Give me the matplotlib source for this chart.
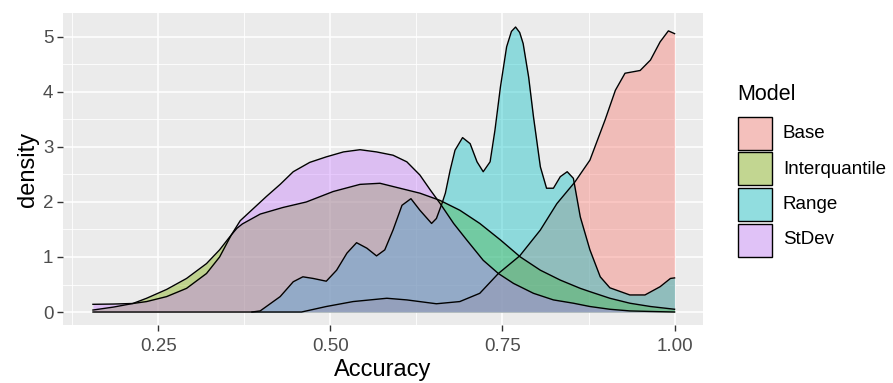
import matplotlib
matplotlib.use("Agg")
import matplotlib.pyplot as plt
from matplotlib.patches import Rectangle

plt.rcParams['font.family'] = ['Liberation Sans', 'DejaVu Sans']

# density curves (Accuracy, density)
base_x = [0.155, 0.30, 0.42, 0.458, 0.494, 0.533, 0.582, 0.611, 0.654, 0.688, 0.717,
          0.744, 0.775, 0.805, 0.829, 0.855, 0.877, 0.899, 0.914, 0.928, 0.950, 0.965,
          0.979, 0.991, 1.0]
base_y = [0.0, 0.0, 0.0, 0.0, 0.10, 0.19, 0.25, 0.22, 0.15, 0.19, 0.34,
          0.70, 1.02, 1.49, 1.97, 2.36, 2.76, 3.49, 4.03, 4.34, 4.39, 4.58,
          4.91, 5.11, 5.06]

iq_x = [0.155, 0.185, 0.213, 0.233, 0.262, 0.291, 0.320, 0.339, 0.354, 0.364, 0.372,
        0.398, 0.431, 0.465, 0.504, 0.543, 0.572, 0.601, 0.630, 0.659, 0.688, 0.717,
        0.747, 0.776, 0.805, 0.834, 0.863, 0.877, 0.906, 0.935, 0.965, 1.0]
iq_y = [0.036, 0.09, 0.155, 0.25, 0.41, 0.61, 0.88, 1.13, 1.37, 1.52, 1.60,
        1.78, 1.90, 2.00, 2.19, 2.32, 2.34, 2.25, 2.16, 2.03, 1.85, 1.61,
        1.31, 1.00, 0.76, 0.58, 0.43, 0.37, 0.25, 0.16, 0.10, 0.05]

range_x = [0.386, 0.398, 0.427, 0.446, 0.460, 0.475, 0.494, 0.509, 0.524, 0.538, 0.553,
           0.567, 0.579, 0.591, 0.604, 0.617, 0.630, 0.647, 0.654, 0.662, 0.667, 0.674,
           0.681, 0.692, 0.703, 0.713, 0.722, 0.732, 0.739, 0.747, 0.756, 0.763, 0.769,
           0.775, 0.780, 0.788, 0.795, 0.805, 0.814, 0.824, 0.834, 0.844, 0.853, 0.863,
           0.877, 0.892, 0.906, 0.935, 0.957, 0.979, 0.994, 1.0]
range_y = [0.0, 0.02, 0.28, 0.55, 0.64, 0.61, 0.56, 0.76, 1.07, 1.26, 1.16,
           1.02, 1.13, 1.49, 1.94, 2.06, 1.85, 1.61, 1.70, 1.97, 2.16, 2.58,
           2.94, 3.17, 3.06, 2.73, 2.55, 2.73, 3.30, 4.09, 4.82, 5.10, 5.18,
           5.08, 4.88, 4.27, 3.55, 2.64, 2.25, 2.25, 2.46, 2.55, 2.43, 1.73,
           1.13, 0.64, 0.44, 0.31, 0.31, 0.46, 0.61, 0.62]

sd_x = [0.155, 0.185, 0.213, 0.233, 0.262, 0.291, 0.320, 0.339, 0.356, 0.369, 0.388,
        0.407, 0.427, 0.446, 0.470, 0.494, 0.519, 0.543, 0.567, 0.591, 0.611, 0.630,
        0.645, 0.659, 0.679, 0.698, 0.722, 0.744, 0.766, 0.795, 0.824, 0.853, 0.877,
        0.906, 0.935, 0.965, 1.0]
sd_y = [0.14, 0.145, 0.155, 0.19, 0.28, 0.43, 0.70, 1.00, 1.40, 1.66, 1.88,
        2.10, 2.32, 2.55, 2.72, 2.82, 2.91, 2.95, 2.91, 2.85, 2.73, 2.49,
        2.22, 1.98, 1.61, 1.31, 0.94, 0.70, 0.52, 0.34, 0.22, 0.16, 0.10,
        0.05, 0.02, 0.01, 0.0]

models = ["Base", "Interquantile", "Range", "StDev"]
colors = ["#F8766D", "#7CAE00", "#00BFC4", "#C77CFF"]
curves = [(base_x, base_y), (iq_x, iq_y), (range_x, range_y), (sd_x, sd_y)]

W, H = 893, 383
fig = plt.figure(figsize=(W / 100, H / 100), dpi=100)
fig.patch.set_facecolor("white")

# panel box in pixels
left, right, top, bottom = 63, 703, 13, 325
ax = fig.add_axes([left / W, 1 - bottom / H, (right - left) / W, (bottom - top) / H])
ax.set_facecolor("#EBEBEB")

for (x, y), c in zip(curves, colors):
    ax.fill_between(x, 0, y, color=c, alpha=0.4, linewidth=0)
    ax.plot(x, y, color="black", lw=1.0)

ax.set_xlim(0.1115, 1.0413)
ax.set_ylim(-0.236, 5.435)

ax.set_xticks([0.25, 0.50, 0.75, 1.00])
ax.set_xticklabels(["0.25", "0.50", "0.75", "1.00"])
ax.set_xticks([0.125, 0.375, 0.625, 0.875], minor=True)
ax.set_yticks([0, 1, 2, 3, 4, 5])
ax.set_yticks([0.5, 1.5, 2.5, 3.5, 4.5], minor=True)

ax.grid(which="major", color="white", lw=1.1)
ax.grid(which="minor", color="white", lw=0.6)
ax.set_axisbelow(True)
for s in ax.spines.values():
    s.set_visible(False)

ax.tick_params(which="major", length=4.5, width=1.0, color="#333333",
               labelsize=13.5, labelcolor="#4D4D4D")
ax.tick_params(axis="x", which="major", pad=5)
ax.tick_params(axis="y", which="major", pad=3, length=4)
ax.tick_params(which="minor", length=0)

ax.set_xlabel("Accuracy", fontsize=17, color="black", labelpad=3)
ax.set_ylabel("density", fontsize=17, color="black", labelpad=3)

# legend drawn by hand to match ggplot's boxed keys
def fy(py):
    return 1 - py / H

fig.text(737 / W, fy(95), "Model", fontsize=15.5, va="center", ha="left")
key_tops = [117, 152.5, 188, 223.5]
for name, c, t in zip(models, colors, key_tops):
    kx, kw, kh = 738, 34, 33
    fig.patches.append(Rectangle((kx / W, fy(t + kh)), kw / W, kh / H,
                                 transform=fig.transFigure, facecolor="#F2F2F2",
                                 edgecolor="none"))
    fig.patches.append(Rectangle((kx / W, fy(t + kh)), kw / W, kh / H,
                                 transform=fig.transFigure, facecolor=c, alpha=0.4,
                                 edgecolor="none"))
    fig.patches.append(Rectangle((kx / W, fy(t + kh)), kw / W, kh / H,
                                 transform=fig.transFigure, facecolor="none",
                                 edgecolor="black", lw=1.0))
    fig.text(783 / W, fy(t + kh / 2), name, fontsize=13.5, va="center", ha="left")

fig.savefig("out.png", dpi=100)
